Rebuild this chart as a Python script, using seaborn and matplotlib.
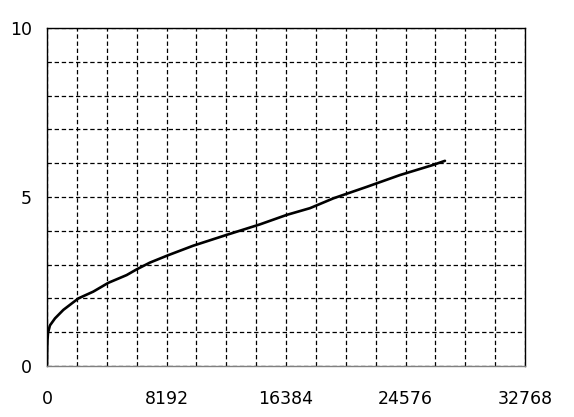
import matplotlib
matplotlib.use("Agg")
import matplotlib.pyplot as plt
from matplotlib.ticker import MultipleLocator
import seaborn as sns
import pandas as pd

# values
x_vals = [0, 10, 30, 70, 200, 550, 1120, 2150, 3170, 4200, 5460, 6150, 7060,
          8320, 10030, 12320, 14600, 16430, 18030, 19630, 21920, 24200,
          26480, 27280]
y_vals = [0.05, 0.45, 0.75, 0.98, 1.2, 1.41, 1.66, 2.0, 2.2, 2.46, 2.69, 2.86,
          3.06, 3.28, 3.56, 3.88, 4.19, 4.47, 4.67, 4.96, 5.3, 5.65, 5.95,
          6.07]
x_ticks = [0, 8192, 16384, 24576, 32768]
y_ticks = [0, 5, 10]

df = pd.DataFrame({"x": x_vals, "y": y_vals})

sns.set_style("white")
plt.rcParams['font.family'] = ['DejaVu Sans']

fig = plt.figure(figsize=(5.74, 4.17), dpi=100)
ax = fig.add_axes([47 / 574, 51 / 417, 478 / 574, 338 / 417])

sns.lineplot(data=df, x="x", y="y", ax=ax, color="black", linewidth=1.9)

ax.set_xlim(0, 32768)
ax.set_ylim(0, 10)
ax.set_xticks(x_ticks)
ax.set_yticks(y_ticks)
ax.xaxis.set_minor_locator(MultipleLocator(2048))
ax.yaxis.set_minor_locator(MultipleLocator(1))
ax.grid(True, which="both", color="black", linestyle=(0, (3.5, 2.2)), linewidth=0.9)
ax.set_axisbelow(True)

ax.tick_params(which="both", length=0, labelcolor="black")
ax.tick_params(axis="x", pad=17, labelsize=12.5)
ax.tick_params(axis="y", pad=11, labelsize=12.5)
ax.set_xlabel("")
ax.set_ylabel("")

for side in ["top", "right", "left"]:
    ax.spines[side].set_color("black")
    ax.spines[side].set_linewidth(1.0)
ax.spines["bottom"].set_color("#808080")
ax.spines["bottom"].set_linewidth(1.0)

fig.savefig("out.png", dpi=100)
